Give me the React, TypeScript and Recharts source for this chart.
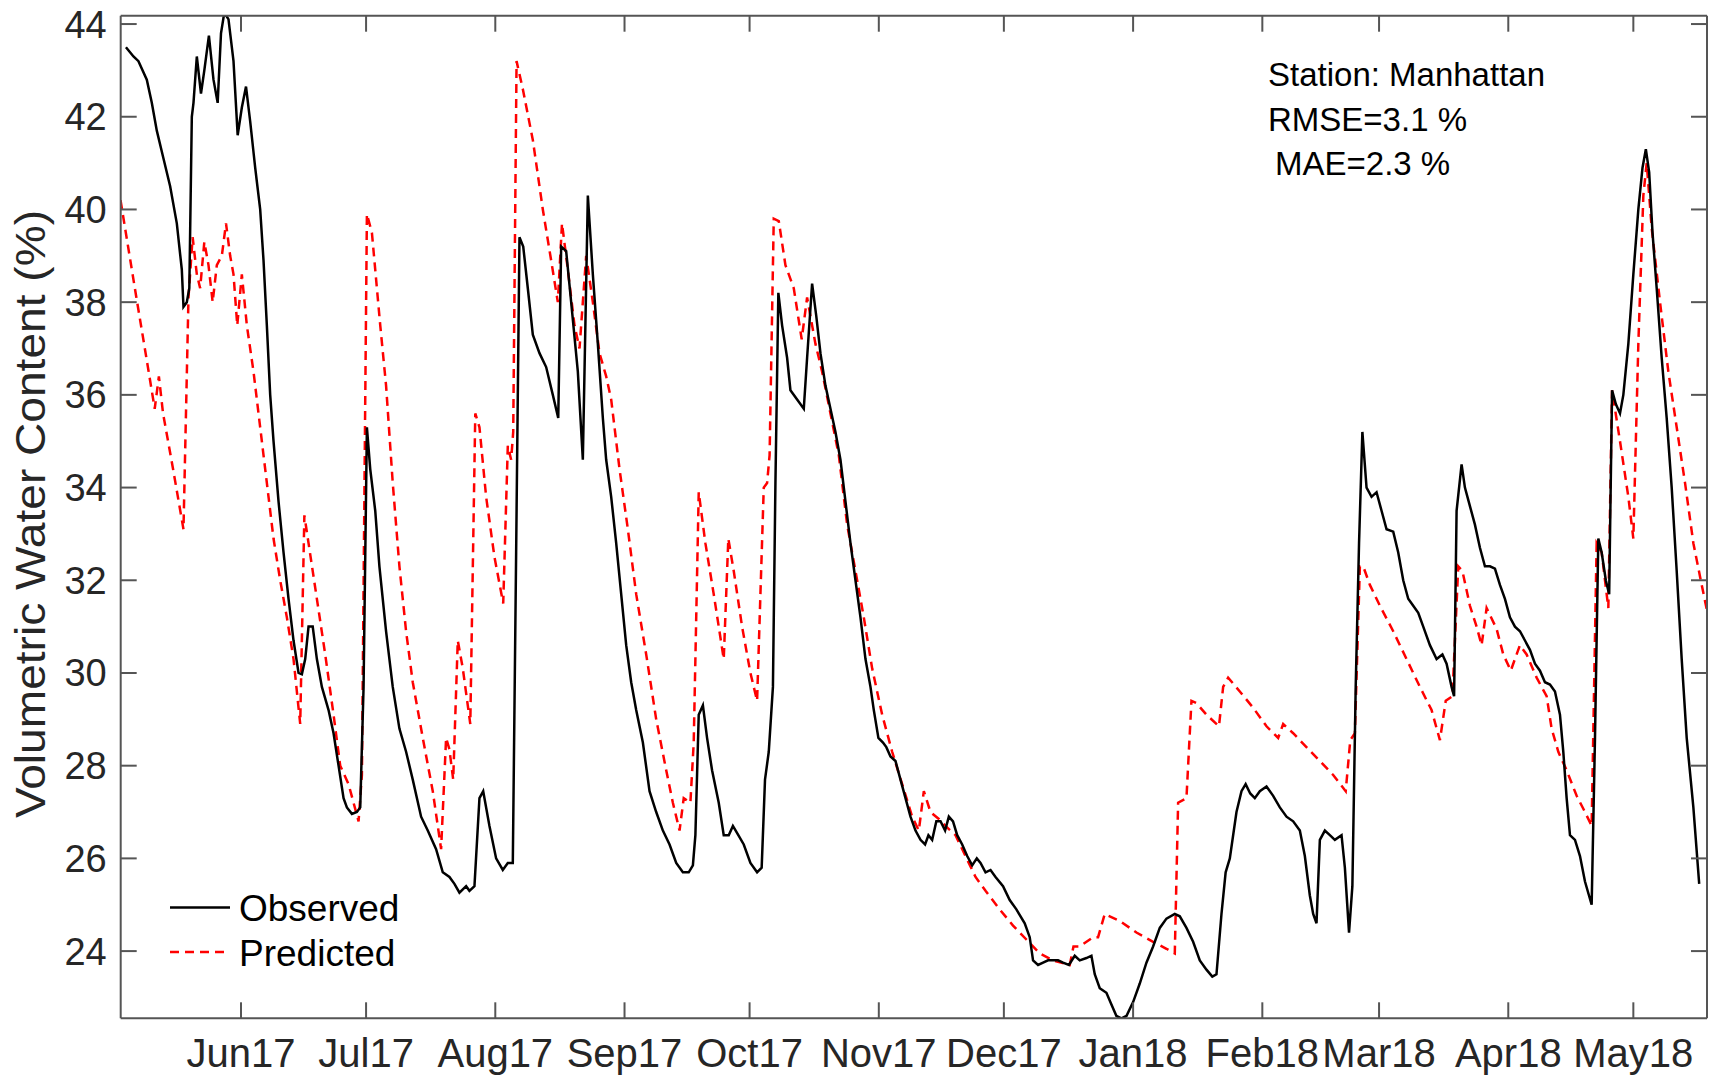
import { LineChart, Line, XAxis, YAxis } from "recharts";

// days counted from 1 Jun 2017
const tickDays = [0, 30, 61, 92, 122, 153, 183, 214, 245, 273, 304, 334];
const tickLabels = ["Jun17", "Jul17", "Aug17", "Sep17", "Oct17", "Nov17", "Dec17", "Jan18", "Feb18", "Mar18", "Apr18", "May18"];
const yTicks = [24, 26, 28, 30, 32, 34, 36, 38, 40, 42, 44];

const obsDay = [
  -27.6, -25.8, -24.6, -22.6, -21.4, -20.2, -18.6, -17, -15.4, -14.2, -13.8, -13, -12.4, -11.8, -11.4, -10.6, -9.6, -8.8,
  -7.7, -6.6, -5.6, -4.8, -4, -3, -1.8, -0.8, 0.2, 1.2, 2.2, 3.4, 4.6, 5.4, 6.2, 7, 7.8, 9, 10.2, 11.4, 12.6, 13.8, 14.6,
  15.4, 16.2, 17.2, 18.2, 19.4, 21, 22.2, 23.4, 24.6, 25.4, 26.6, 27.8, 28.6, 29.4, 30.2, 31, 32.2, 33.2, 34.8, 36.4, 38,
  39.6, 41.2, 43.2, 44.8, 46.8, 48.4, 50, 51.2, 52.4, 54, 54.8, 56, 57.2, 58.1, 59.6, 61.2, 62.8, 64, 65.2, 66, 66.8, 67.7,
  68.8, 70, 71.6, 73.2, 74.8, 76.1, 76.8, 78, 79.2, 80.8, 82, 83.2, 84.4, 85.6, 86.8, 87.6, 88.8, 90, 91.2, 92.4, 93.6,
  94.8, 96.4, 98, 99.6, 101.2, 102.8, 104.4, 106, 107.4, 108.4, 109, 109.8, 110.8, 111.8, 113, 114.6, 115.8, 117, 118,
  119.3, 120.6, 122.2, 123.8, 124.9, 125.7, 126.6, 127.6, 128.2, 128.9, 129.8, 131, 131.8, 133.4, 135, 135.8, 137, 138,
  139, 140.2, 141.4, 142.6, 143.8, 145, 146.2, 147.4, 148.6, 149.8, 151, 151.8, 152.9, 154, 154.8, 155.8, 157, 158.2,
  159.4, 160.6, 161.8, 163, 164.1, 164.9, 165.8, 166.8, 167.8, 168.9, 169.8, 170.8, 171.8, 173, 174.2, 175.4, 176.5,
  177.4, 178.6, 179.8, 181, 182.8, 184.4, 186, 188, 189.2, 190, 191.2, 192.4, 193.6, 194.8, 196, 197.2, 198.6, 200,
  201.2, 202.8, 204, 204.8, 206, 207.6, 208.8, 210, 211.2, 212.4, 214, 215.6, 217.2, 218.8, 220.4, 222, 224, 225.2,
  226.8, 228.4, 230, 231.6, 233, 234, 235.2, 236.2, 237.2, 238.8, 240, 241, 242.1, 243.2, 244.4, 246, 247.6, 249.2,
  250.8, 252.4, 254, 255.2, 256.4, 257.2, 258, 258.8, 260, 261.2, 262.4, 264, 264.8, 265.8, 266.6, 267.4, 268.2, 269,
  270, 271.2, 272.4, 273.6, 274.8, 276.4, 277.6, 278.8, 280, 281.2, 282.4, 283.6, 285.2, 286.8, 288.2, 289.2, 290.4,
  291, 291.6, 292.8, 293.6, 294.8, 296, 297.2, 298.4, 299.6, 300.8, 302, 303.2, 304.4, 305.6, 306.8, 308, 309.2, 310.4,
  311.6, 312.8, 314, 315.2, 316.4, 317.2, 318, 318.8, 320, 321.2, 322.4, 324, 324.8, 325.6, 326.4, 327.4, 328.2, 328.9,
  329.8, 330.8, 331.6, 332.8, 334, 335.2, 336.2, 337, 337.8, 338.6, 339.6, 340.8, 342, 343.2, 344.4, 345.6, 346.8,
  348.4, 349.8,
];
const obsVwc = [
  43.5, 43.3, 43.2, 42.8, 42.3, 41.7, 41.1, 40.5, 39.7, 38.7, 37.9, 38, 38.3, 42, 42.3, 43.3, 42.5, 43,
  43.75, 42.8, 42.3, 43.8, 44.25, 44.1, 43.2, 41.6, 42.2, 42.65, 41.9, 40.9, 40, 38.9, 37.5, 36, 35, 33.7, 32.6, 31.6, 30.7, 30, 29.97,
  30.3, 31, 31, 30.3, 29.7, 29.2, 28.7, 28, 27.3, 27.1, 26.96, 27, 27.1, 29.7, 35.3, 34.4, 33.5, 32.3, 30.9, 29.7, 28.8,
  28.3, 27.7, 26.9, 26.6, 26.2, 25.7, 25.6, 25.45, 25.26, 25.4, 25.3, 25.4, 27.3, 27.45, 26.7, 26, 25.75, 25.9, 25.9, 32.6, 39.4, 39.2,
  38.3, 37.3, 36.9, 36.6, 36, 35.5, 39.2, 39.1, 38, 36.5, 34.6, 40.3, 38.6, 37.1, 35.5, 34.6, 33.8, 32.8, 31.7, 30.6, 29.8,
  29.2, 28.5, 27.45, 27, 26.6, 26.3, 25.9, 25.7, 25.7, 25.85, 26.5, 29.1, 29.3, 28.6, 27.9, 27.2, 26.5, 26.5, 26.7,
  26.5, 26.3, 25.9, 25.7, 25.8, 27.7, 28.3, 29.7, 34.1, 38.2, 37.5, 36.8, 36.1, 35.9, 35.7, 36.8, 38.4, 37.7,
  36.9, 36.2, 35.7, 35.2, 34.6, 33.7, 32.8, 32, 31.2, 30.3, 29.7, 29.2, 28.6, 28.5, 28.4, 28.2, 28.1, 27.7,
  27.3, 26.9, 26.6, 26.4, 26.3, 26.5, 26.4, 26.8, 26.8, 26.6, 26.9, 26.8, 26.5, 26.3, 26.05, 25.85, 26,
  25.9, 25.7, 25.75, 25.6, 25.4, 25.1, 24.9, 24.6, 24.3, 23.8, 23.7, 23.75, 23.8, 23.8, 23.8, 23.75, 23.7, 23.9,
  23.8, 23.85, 23.9, 23.5, 23.2, 23.1, 22.85, 22.6, 22.55, 22.6, 22.9, 23.3, 23.75, 24.1, 24.5, 24.7, 24.8, 24.75,
  24.5, 24.2, 23.8, 23.6, 23.45, 23.5, 24.8, 25.7, 26, 27, 27.45, 27.6, 27.4, 27.3, 27.45, 27.55, 27.35, 27.1,
  26.9, 26.8, 26.6, 26.05, 25.2, 24.8, 24.6, 26.4, 26.6, 26.5, 26.4, 26.5, 25.8, 24.4, 25.4, 29.7, 32.8, 35.2,
  34, 33.8, 33.9, 33.5, 33.1, 33.05, 32.6, 32, 31.6, 31.45, 31.3, 31, 30.6, 30.3, 30.4, 30.2, 29.7,
  29.5, 33.5, 34.5, 34, 33.6, 33.2, 32.7, 32.3, 32.3, 32.25, 31.9, 31.6, 31.2, 31, 30.9, 30.7, 30.5, 30.2,
  30.05, 29.8, 29.75, 29.6, 29.1, 28.3, 27.3, 26.5, 26.4, 26.05, 25.5, 25, 28.6, 32.9, 32.6, 32, 31.7, 36.1,
  35.8, 35.6, 36, 37.1, 38.6, 40, 40.9, 41.3, 40.8, 39.5, 38.3, 36.8, 35.5, 34, 32.2, 30.3, 28.6,
  27.1, 25.45,
];

const predDay = [
  -28.9, -25.1, -22.7, -20.7, -19.7, -18.7, -16.3, -13.8, -12.6, -11.6, -10.6, -9.8, -8.8, -7.8, -6.8, -5.8, -4.6, -3.6,
  -2.6, -1.8, -0.9, 0.2, 1.4, 3, 4.6, 6.2, 7.8, 9.4, 11, 12.6, 14.2, 15.2, 16.2, 18.2, 20.2, 22.2, 23.8, 25.8, 28.2, 29,
  30.2, 31.4, 33.4, 34.8, 36.4, 38, 39.6, 41.2, 43.6, 46, 48, 49.2, 50, 50.9, 52, 53.2, 55, 56.2, 57.2, 58.8, 60.8, 62.9,
  64, 64.8, 65.3, 66.1, 67.6, 70, 72.4, 74.4, 76, 77, 78.4, 80, 81.2, 82.8, 84.4, 86, 87.6, 88.8, 90.8, 92.8, 94.8, 97.2,
  99.6, 102, 103.6, 105.2, 106.2, 107.8, 108.6, 109.8, 111.4, 113.4, 115.8, 116.9, 118.2, 120.2, 122.2, 123.8, 125.4,
  126.2, 126.8, 127.8, 129, 130.6, 132.6, 134.5, 135.8, 137.8, 139.4, 141.4, 143.4, 145.4, 147.4, 149.4, 151.4, 153.8,
  156.2, 158.6, 161, 162.6, 163.8, 165.4, 167.4, 169, 171.4, 173.8, 176.2, 178.6, 182, 185.2, 188.4, 191.6, 194.8,
  198.8, 199.7, 201.2, 204.4, 205.6, 207.2, 210.8, 214.8, 218.8, 222, 224, 224.8, 226.8, 228, 229.2, 231.6, 234.6,
  235.6, 236.8, 239.6, 242.8, 246, 248.8, 250, 252.4, 254, 258.8, 262, 265, 266.1, 267.2, 268.4, 269.2, 270.8, 273.2,
  276.4, 279.6, 282.8, 285.6, 287.6, 289, 290.6, 292, 293, 294.8, 296.4, 297.6, 298.8, 301.2, 302.8, 304.6, 306.8,
  308.4, 310.8, 313.2, 314.4, 316, 318, 320.4, 322.4, 324, 325.2, 326.4, 328, 328.9, 330.8, 332.8, 334, 335.2, 336.4,
  337.2, 338.4, 340.4, 342.4, 344.4, 346.4, 348.4, 350.4, 352,
];
const predVwc = [
  40.2, 38.1, 36.8, 35.7, 36.4, 35.6, 34.4, 33.1, 38.1, 39.4, 38.6, 38.3, 39.3, 38.8, 38, 38.8, 39, 39.7,
  39, 38.6, 37.5, 38.6, 37.5, 36.5, 35.3, 34.1, 32.9, 32, 31.2, 30.3, 28.9, 33.4, 32.8, 31.6, 30.4, 29.1, 28, 27.6, 26.8, 27.8,
  39.9, 39.5, 37.5, 36.2, 34.1, 32.3, 30.9, 29.8, 28.6, 27.45, 26.2, 28.6, 28.35, 27.7, 30.7, 30.1, 28.9, 35.6, 35.3, 33.8, 32.5, 31.5,
  34.9, 34.6, 35.2, 43.2, 42.6, 41.5, 40, 38.9, 38, 39.7, 38.7, 37.5, 37, 39, 38, 36.9, 36.4, 35.9, 34.4, 33.1, 31.7, 30.4,
  29, 27.9, 27.2, 26.6, 27.3, 27.2, 28.5, 33.9, 32.8, 31.7, 30.3, 32.9, 32.2, 31, 30, 29.4, 34,
  34.1, 34.7, 39.8, 39.75, 38.8, 38.3, 37.2, 38.1, 37.1, 36.5, 35.6, 34.7, 33.2, 32.2, 31.2, 30.1, 29.1,
  28.3, 27.6, 26.9, 26.6, 27.45, 27, 26.85, 26.7, 26.5, 26.05, 25.6, 25.3, 24.9, 24.55, 24.25, 23.95, 23.8,
  23.7, 24.1, 24.1, 24.3, 24.3, 24.8, 24.65, 24.4, 24.2, 24.05, 23.95, 27.2, 27.3, 29.4, 29.35, 29.1, 28.85,
  29.7, 29.9, 29.6, 29.25, 28.85, 28.6, 28.9, 28.7, 28.55, 28.1, 27.8, 27.45, 28.55, 28.7, 32.3, 32.3, 31.9, 31.45,
  30.9, 30.3, 29.7, 29.2, 28.55, 29.4, 29.5, 32.3, 32.2, 31.45, 31, 30.6, 31.4, 30.95, 30.4, 30.05, 30.6,
  30.4, 29.9, 29.5, 28.8, 28.3, 27.9, 27.35, 27, 26.7, 32.8, 32.6, 31.4, 36.1, 35, 33.8, 32.9, 37.1, 40.3,
  41, 39.6, 38, 36.5, 35.3, 34.1, 32.8, 31.9, 31.2,
];

const observed = obsDay.map((d, i) => ({ d, v: obsVwc[i] }));
const predicted = predDay.map((d, i) => ({ d, v: predVwc[i] }));

const FONT = '"Liberation Sans", Arial, Helvetica, sans-serif';
const AX = "#555555";
const TXT = "#262626";
const RED = "#ff0000";
const X_DOMAIN = [-28.86, 351.67];
const Y_DOMAIN = [22.55, 44.18];

// mirrored box axes: tick marks only, no labels
const NoLabel = () => null;

export default function App() {
  return (
    <div style={{ position: "absolute", left: 0, top: 0, width: 1711, height: 1078, background: "#fff", fontFamily: FONT }}>
      <LineChart width={1711} height={1078} margin={{ top: 14.7, right: 3, bottom: 0, left: 0 }}>
        <XAxis
          dataKey="d"
          type="number"
          domain={X_DOMAIN}
          allowDataOverflow
          ticks={tickDays}
          interval={0}
          tickFormatter={(d: number) => tickLabels[tickDays.indexOf(d)]}
          height={59.7}
          tickSize={-16}
          tickMargin={36}
          stroke={AX}
          strokeWidth={2}
          tick={{ fill: TXT, fontSize: 40, fontFamily: FONT }}
        />
        <XAxis
          xAxisId="top"
          dataKey="d"
          type="number"
          orientation="top"
          domain={X_DOMAIN}
          allowDataOverflow
          ticks={tickDays}
          interval={0}
          height={1}
          tickSize={-16}
          tick={NoLabel}
          stroke={AX}
          strokeWidth={2}
        />
        <YAxis
          type="number"
          domain={Y_DOMAIN}
          allowDataOverflow
          ticks={yTicks}
          interval={0}
          width={120.7}
          tickSize={-16}
          tickMargin={30}
          stroke={AX}
          strokeWidth={2}
          tick={{ fill: TXT, fontSize: 38, fontFamily: FONT }}
        />
        <YAxis
          yAxisId="right"
          type="number"
          orientation="right"
          domain={Y_DOMAIN}
          allowDataOverflow
          ticks={yTicks}
          interval={0}
          width={1}
          tickSize={-16}
          tick={NoLabel}
          stroke={AX}
          strokeWidth={2}
        />
        <Line
          data={predicted}
          xAxisId="top"
          yAxisId="right"
          dataKey="v"
          type="linear"
          stroke={RED}
          strokeWidth={2.5}
          strokeDasharray="9 6"
          dot={false}
          activeDot={false}
          isAnimationActive={false}
        />
        <Line
          data={observed}
          dataKey="v"
          type="linear"
          stroke="#000"
          strokeWidth={2.5}
          dot={false}
          activeDot={false}
          isAnimationActive={false}
        />
      </LineChart>
      <svg
        width={1711}
        height={1078}
        style={{ position: "absolute", left: 0, top: 0, pointerEvents: "none" }}
        fontFamily={FONT}
      >
        <text
          x={45}
          y={514}
          fontSize={43}
          fill={TXT}
          textAnchor="middle"
          textLength={608}
          lengthAdjust="spacingAndGlyphs"
          transform="rotate(-90 45 514)"
        >
          Volumetric Water Content (%)
        </text>
        <text x={1268} y={86} fontSize={33} fill="#000">Station: Manhattan</text>
        <text x={1268} y={131} fontSize={33} fill="#000">RMSE=3.1 %</text>
        <text x={1275} y={175} fontSize={33} fill="#000">MAE=2.3 %</text>
        <line x1={170} y1={907.5} x2={230} y2={907.5} stroke="#000" strokeWidth={2.5} />
        <text x={239} y={921} fontSize={37} fill="#000">Observed</text>
        <line x1={170} y1={952} x2={230} y2={952} stroke={RED} strokeWidth={2.5} strokeDasharray="9 6" />
        <text x={239} y={966} fontSize={37} fill="#000">Predicted</text>
      </svg>
    </div>
  );
}
